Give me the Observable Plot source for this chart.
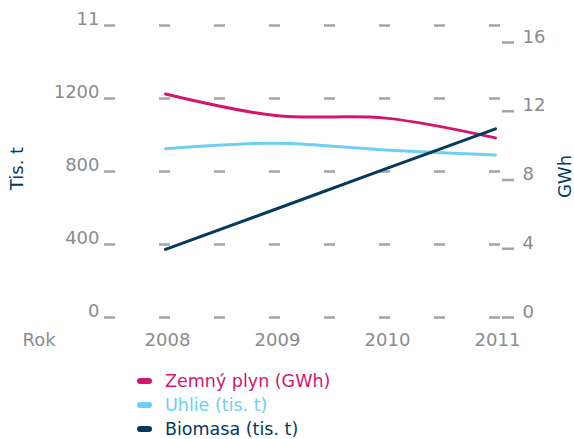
<!DOCTYPE html>
<html>
<head>
<meta charset="utf-8">
<script src="https://cdn.jsdelivr.net/npm/d3@7"></script>
<script src="https://cdn.jsdelivr.net/npm/@observablehq/plot@0.6"></script>
<style>
  body { margin: 0; background: #fff; font-family: "DejaVu Sans", sans-serif; }
  #chart svg { display: block; }
  #legend { padding-left: 137px; margin-top: 9px; }
  .row { display: flex; align-items: center; height: 24px; font-size: 17.5px; line-height: 20px; }
  .mk { display: inline-block; width: 15px; height: 6px; border-radius: 3px; margin-right: 13px; }
</style>
</head>
<body>
<div id="chart"></div>
<div id="legend"></div>
<script>
const years = [2008, 2009, 2010, 2011];
const zemnyPlynGWh = [13.0, 11.75, 11.6, 10.45];
const uhlieTis = [925, 955, 918, 890];
const biomasaTis = [373, 593, 814, 1034];
const leftTicks = [0, 400, 800, 1200, 1600];
const leftTickLabels = ["0", "400", "800", "1200", "11"];
const rightTicks = [0, 4, 8, 12, 16];
const rightTickLabels = ["0", "4", "8", "12", "16"];
const seriesNames = ["Zemný plyn (GWh)", "Uhlie (tis. t)", "Biomasa (tis. t)"];
const seriesColors = ["#d2166f", "#6dcff6", "#043a5c"];
const xLabel = "Rok";
const leftTitle = "Tis. t";
const rightTitle = "GWh";

// GWh values share the y scale with tis. t through this ratio of the two axes
const GWH = 17.1875 / 0.1825;

const gray = "#8a8b8d";
const gridGray = "#a5a5a5";

const zemnyRows = years.map((yr, i) => ({year: yr, v: zemnyPlynGWh[i] * GWH}));
const uhlieRows = years.map((yr, i) => ({year: yr, v: uhlieTis[i]}));
const biomasaRows = years.map((yr, i) => ({year: yr, v: biomasaTis[i]}));

const chart = Plot.plot({
  width: 574,
  height: 360,
  marginTop: 25,
  marginBottom: 43,
  marginLeft: 104,
  marginRight: 73,
  style: {fontFamily: "DejaVu Sans", fontSize: "18px", background: "#fff"},
  x: {domain: [2008, 2011], range: [165, 495], axis: null},
  y: {domain: [0, 1600], axis: null},
  marks: [
    Plot.ruleY(leftTicks, {stroke: gridGray, strokeWidth: 2.5, strokeDasharray: "11,44"}),
    Plot.axisY(rightTicks.map(v => v * GWH), {anchor: "right", tickSize: 12, tickFormat: () => "", stroke: gridGray, strokeWidth: 2.5, label: null}),
    Plot.text(leftTicks, {y: d => d, text: (d, i) => leftTickLabels[i], frameAnchor: "left", dx: -5, dy: -1, textAnchor: "end", lineAnchor: "bottom", fill: gray, fontSize: 18}),
    Plot.text(rightTicks, {y: d => d * GWH, text: (d, i) => rightTickLabels[i], frameAnchor: "right", dx: 21, dy: 0, textAnchor: "start", lineAnchor: "bottom", fill: gray, fontSize: 18}),
    Plot.text(years, {x: d => d, text: d => String(d), frameAnchor: "bottom", dy: 28, dx: 2, fill: gray, fontSize: 18}),
    Plot.text([xLabel], {frameAnchor: "bottom-left", dx: -82, dy: 28, textAnchor: "start", fill: gray, fontSize: 18}),
    Plot.text([leftTitle], {frameAnchor: "left", rotate: -90, dx: -87, dy: -3, textAnchor: "middle", fill: seriesColors[2], fontSize: 18}),
    Plot.text([rightTitle], {frameAnchor: "right", rotate: -90, dx: 64, dy: 5, textAnchor: "middle", fill: seriesColors[2], fontSize: 18}),
    Plot.line(zemnyRows, {x: "year", y: "v", stroke: seriesColors[0], strokeWidth: 3, curve: "catmull-rom"}),
    Plot.line(uhlieRows, {x: "year", y: "v", stroke: seriesColors[1], strokeWidth: 3, curve: "catmull-rom"}),
    Plot.line(biomasaRows, {x: "year", y: "v", stroke: seriesColors[2], strokeWidth: 3, curve: "linear"})
  ]
});
document.getElementById("chart").appendChild(chart);

const legend = document.getElementById("legend");
seriesNames.forEach((name, i) => {
  const row = document.createElement("div");
  row.className = "row";
  row.style.color = seriesColors[i];
  const mk = document.createElement("span");
  mk.className = "mk";
  mk.style.background = seriesColors[i];
  row.appendChild(mk);
  row.appendChild(document.createTextNode(name));
  legend.appendChild(row);
});
</script>
</body>
</html>
